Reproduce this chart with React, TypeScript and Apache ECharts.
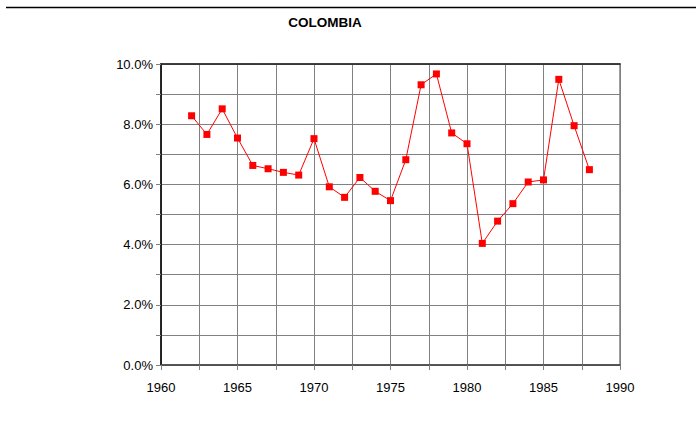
import React, { useEffect, useRef } from "react";
import * as echarts from "echarts";

const years = [1962, 1963, 1964, 1965, 1966, 1967, 1968, 1969, 1970, 1971, 1972, 1973, 1974, 1975, 1976, 1977, 1978, 1979, 1980, 1981, 1982, 1983, 1984, 1985, 1986, 1987, 1988];
const values = [8.28, 7.66, 8.51, 7.54, 6.63, 6.52, 6.40, 6.31, 7.52, 5.92, 5.57, 6.23, 5.77, 5.46, 6.82, 9.31, 9.67, 7.71, 7.35, 4.04, 4.78, 5.36, 6.08, 6.15, 9.49, 7.95, 6.49];
const title = "COLOMBIA";

export default function App() {
  const ref = useRef<HTMLDivElement>(null);
  useEffect(() => {
    if (!ref.current) return;
    const chart = echarts.init(ref.current, undefined, { renderer: "svg" });
    const font = "'Liberation Sans', Arial, sans-serif";
    chart.setOption({
      animation: false,
      backgroundColor: "#ffffff",
      graphic: [
        { type: "line", shape: { x1: 6, y1: 7.5, x2: 696, y2: 7.5 }, style: { stroke: "#000", lineWidth: 1.5 } },
        {
          type: "text",
          x: 325,
          y: 22,
          style: { text: title, font: `bold 13.5px ${font}`, fill: "#000", textAlign: "center", textVerticalAlign: "middle" },
        },
      ],
      grid: { left: 161, top: 64, width: 459, height: 301, show: true, borderColor: "#808080", borderWidth: 1.5 },
      xAxis: [
        {
          type: "value",
          min: 1960,
          max: 1990,
          interval: 2.5,
          axisLine: { show: true, lineStyle: { color: "#404040", width: 1.5 } },
          axisTick: { show: true, length: 5, lineStyle: { color: "#808080" } },
          splitLine: { show: true, lineStyle: { color: "#808080", width: 1 } },
          axisLabel: {
            color: "#000",
            fontFamily: font,
            fontSize: 13,
            margin: 16,
            formatter: (v: number) => (v % 5 === 0 ? String(v) : ""),
          },
        },
        {
          type: "value",
          position: "top",
          min: 1960,
          max: 1990,
          interval: 2.5,
          axisLine: { show: true, lineStyle: { color: "#202020", width: 1.5 } },
          axisTick: { show: false },
          axisLabel: { show: false },
          splitLine: { show: false },
        },
      ],
      yAxis: {
        type: "value",
        min: 0,
        max: 10,
        interval: 1,
        axisLine: { show: true, lineStyle: { color: "#000", width: 1.5 } },
        axisTick: { show: true, length: 5, lineStyle: { color: "#808080" } },
        splitLine: { show: true, lineStyle: { color: "#808080", width: 1 } },
        axisLabel: {
          color: "#000",
          fontFamily: font,
          fontSize: 13,
          margin: 8,
          formatter: (v: number) => (Math.round(v) % 2 === 0 ? v.toFixed(1) + "%" : ""),
        },
      },
      series: [
        {
          type: "line",
          data: years.map((y, i) => [y, values[i]]),
          symbol: "rect",
          symbolSize: 7,
          itemStyle: { color: "#ff0000" },
          lineStyle: { color: "#ff0000", width: 1 },
        },
      ],
    });
    return () => chart.dispose();
  }, []);
  return <div ref={ref} style={{ width: 696, height: 440, position: "absolute", left: 0, top: 0 }} />;
}
